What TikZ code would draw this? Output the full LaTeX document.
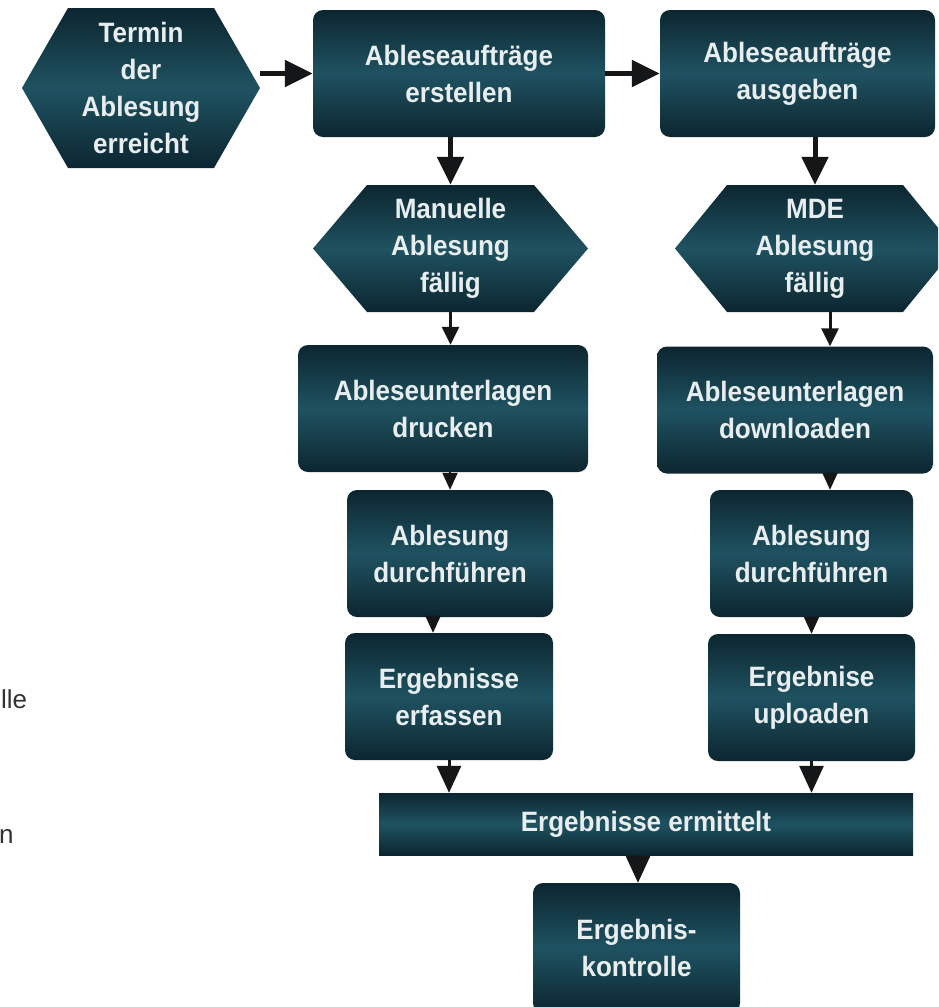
\documentclass[tikz,border=0pt]{standalone}
\usepackage{fontspec}
\setmainfont{Liberation Sans}
\newfontfamily\boxfont[FakeStretch=0.93]{Liberation Sans}
\usetikzlibrary{arrows.meta,calc}

\definecolor{boxmid}{RGB}{31,82,97}
\definecolor{boxdark}{RGB}{12,38,48}
\definecolor{boxtext}{RGB}{232,238,240}
\definecolor{arrowcol}{RGB}{20,22,24}

\begin{document}
\begin{tikzpicture}[
    x=1pt, y=-1pt,
    every node/.style={font=\boxfont\bfseries\fontsize{28}{37}\selectfont,
      text=boxtext, align=center, inner sep=0pt},
    stepbox/.style={rectangle, rounded corners=10pt, top color=boxdark,
      bottom color=boxdark, middle color=boxmid, minimum width=#1,
      minimum height=127pt},
    eventbox/.style 2 args={rectangle, minimum width=#1, minimum height=127pt,
      path picture={\shade[top color=boxdark, bottom color=boxdark, middle color=boxmid]
        (path picture bounding box.west)
        -- ([xshift=#2]path picture bounding box.north west)
        -- ([xshift=-#2]path picture bounding box.north east)
        -- (path picture bounding box.east)
        -- ([xshift=-#2]path picture bounding box.south east)
        -- ([xshift=#2]path picture bounding box.south west) -- cycle;}},
    resultbar/.style={rectangle, top color=boxdark, bottom color=boxdark,
      middle color=boxmid, minimum width=534pt, minimum height=62pt},
    sidetext/.style={font=\normalfont\fontsize{26}{30}\selectfont, text=black!80},
    flow/.style={-{Triangle[length=28pt,width=26pt]}, line width=5pt, draw=arrowcol},
    flowsmall/.style={-{Triangle[length=18pt,width=17pt]}, line width=3pt, draw=arrowcol},
    tip/.style={-{Triangle[length=17pt,width=15pt]}, line width=2pt, draw=arrowcol},
    tipbig/.style={-{Triangle[length=27pt,width=24pt]}, line width=3pt, draw=arrowcol},
  ]

  % ---- page ----------------------------------------------------------
  \clip (0,0) rectangle (938,1007);
  \fill[white] (0,0) rectangle (938,1007);

  % ---- top row -------------------------------------------------------
  \node[eventbox={238pt}{46pt}, minimum height=160pt] (termin) at (141,88)
    {Termin\\der\\Ablesung\\erreicht};
  \node[stepbox=292pt] (erstellen) at (459,73.5) {Ableseaufträge\\erstellen};
  \node[stepbox=275pt] (ausgeben) at (797.5,73.5) {Ableseaufträge\\ausgeben};

  % ---- left branch: manual reading -----------------------------------
  \node[eventbox={275pt}{54pt}] (manuell) at (450.5,248.5) {Manuelle\\Ablesung\\fällig};
  \node[stepbox=290pt] (drucken) at (443,408.5) {Ableseunterlagen\\drucken};
  \node[stepbox=206pt] (durchL) at (450,553.5) {Ablesung\\durchführen};
  \node[stepbox=208pt] (erfassen) at (449,696.5) {Ergebnisse\\erfassen};

  % ---- right branch: MDE ---------------------------------------------
  \node[eventbox={280pt}{52pt}] (mde) at (815,248.5) {MDE\\Ablesung\\fällig};
  \node[stepbox=276pt] (download) at (795,410) {Ableseunterlagen\\downloaden};
  \node[stepbox=203pt] (durchR) at (811.5,553.5) {Ablesung\\durchführen};
  \node[stepbox=207pt] (upload) at (811.5,697.5) {Ergebnise\\uploaden};

  % ---- join and check ------------------------------------------------
  \node[resultbar] (ermittelt) at (646,824) {Ergebnisse ermittelt};
  \node[stepbox=207pt, minimum height=130pt] (kontrolle) at (636.5,948)
    {Ergebnis-\\kontrolle};

  % ---- cut-off legend text -------------------------------------------
  \node[sidetext, anchor=base west] (legA) at (1,708) {lle};
  \node[sidetext, anchor=base west] (legB) at (-1,843) {n};

  % ---- connectors ----------------------------------------------------
  \draw[flow] (termin.east |- erstellen.west) -- (erstellen.west);
  \draw[flow] (erstellen) -- (ausgeben);
  \draw[flow] (manuell.north |- erstellen.south) -- (manuell.north);
  \draw[flow] (mde.north |- ausgeben.south) -- (mde.north);

  \draw[flowsmall] (manuell.south) -- (manuell.south |- drucken.north);
  \draw[flowsmall] ([xshift=15pt]mde.south) -- ([xshift=15pt]mde.south |- download.north);
  \draw[tip] (durchL.north |- drucken.south) -- (durchL.north);
  \draw[tip] ([xshift=35pt]download.south) -- ([xshift=35pt]download.south |- durchR.north);
  \draw[tip] ([xshift=-17pt]durchL.south) -- ([xshift=-17pt]durchL.south |- erfassen.north);
  \draw[tip] (durchR.south) -- (durchR.south |- upload.north);

  \draw[tipbig] (erfassen.south) -- (erfassen.south |- ermittelt.north);
  \draw[tipbig] (upload.south) -- (upload.south |- ermittelt.north);
  \draw[tipbig] ([xshift=-8pt]ermittelt.south) -- ([xshift=-8pt]ermittelt.south |- kontrolle.north);

\end{tikzpicture}
\end{document}
